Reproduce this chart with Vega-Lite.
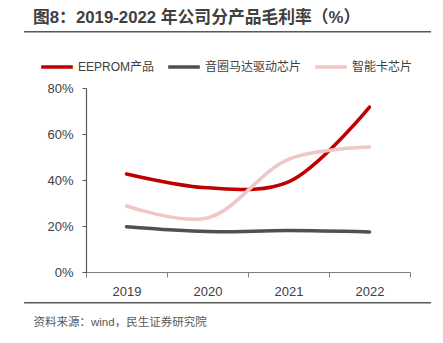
{
  "$schema": "https://vega.github.io/schema/vega-lite/v6.json",
  "width": 324,
  "height": 184,
  "autosize": "none",
  "padding": {"left": 86, "top": 88, "right": 33, "bottom": 71},
  "background": "white",
  "title": {
    "text": "图8：2019-2022 年公司分产品毛利率（%）",
    "anchor": "start",
    "frame": "group",
    "dx": -53,
    "offset": 4,
    "font": "Liberation Sans, Noto Sans CJK SC",
    "fontSize": 16.8,
    "fontWeight": "bold",
    "color": "#404040"
  },
  "config": {
    "view": {"stroke": null},
    "font": "Liberation Sans, Noto Sans CJK SC"
  },
  "datasets": {
    "margins": [
      {"year": "2019", "product": "EEPROM产品", "value": 42.6},
      {"year": "2020", "product": "EEPROM产品", "value": 36.6},
      {"year": "2021", "product": "EEPROM产品", "value": 39.2},
      {"year": "2022", "product": "EEPROM产品", "value": 71.7},
      {"year": "2019", "product": "音圈马达驱动芯片", "value": 19.7},
      {"year": "2020", "product": "音圈马达驱动芯片", "value": 17.6},
      {"year": "2021", "product": "音圈马达驱动芯片", "value": 18.0},
      {"year": "2022", "product": "音圈马达驱动芯片", "value": 17.4},
      {"year": "2019", "product": "智能卡芯片", "value": 28.7},
      {"year": "2020", "product": "智能卡芯片", "value": 23.5},
      {"year": "2021", "product": "智能卡芯片", "value": 49.0},
      {"year": "2022", "product": "智能卡芯片", "value": 54.3}
    ]
  },
  "layer": [
    {
      "data": {"name": "margins"},
      "mark": {"type": "line", "interpolate": "catmull-rom", "strokeWidth": 3.5, "strokeCap": "round", "clip": false},
      "encoding": {
        "x": {
          "field": "year",
          "type": "ordinal",
          "bandPosition": 0.5,
          "scale": {"type": "band", "paddingInner": 0, "paddingOuter": 0},
          "axis": {
            "title": "资料来源：wind，民生证券研究院",
            "titleAnchor": "start",
            "titleX": -53,
            "titleY": 50,
            "titleBaseline": "middle",
            "titleFontSize": 11.5,
            "titleFontWeight": "normal",
            "titleColor": "#595959",
            "titleFont": "Liberation Sans, Noto Sans CJK SC",
            "tickBand": "extent",
            "labelAngle": 0,
            "labelFontSize": 13,
            "labelColor": "#404040",
            "labelPadding": 8,
            "tickSize": 5,
            "tickColor": "#7f7f7f",
            "domainColor": "#7f7f7f",
            "domainWidth": 1.2,
            "grid": false
          }
        },
        "y": {
          "field": "value",
          "type": "quantitative",
          "scale": {"domain": [0, 80]},
          "axis": {
            "title": null,
            "values": [0, 20, 40, 60, 80],
            "labelExpr": "datum.value + '%'",
            "labelFontSize": 13,
            "labelColor": "#404040",
            "labelPadding": 9,
            "tickSize": 4,
            "tickColor": "#595959",
            "domainColor": "#595959",
            "domainWidth": 1.2,
            "grid": false
          }
        },
        "color": {
          "field": "product",
          "type": "nominal",
          "scale": {
            "domain": ["EEPROM产品", "音圈马达驱动芯片", "智能卡芯片"],
            "range": ["#C00000", "#505050", "#F0C6C6"]
          },
          "legend": {
            "title": null,
            "orient": "none",
            "direction": "horizontal",
            "legendX": -47,
            "legendY": -39,
            "symbolType": "stroke",
            "symbolSize": 1000,
            "symbolStrokeWidth": 3.5,
            "labelFontSize": 12,
            "labelColor": "#404040",
            "labelOffset": 3,
            "columnPadding": 6,
            "labelLimit": 200
          }
        }
      }
    },
    {
      "data": {"values": [{}]},
      "mark": {"type": "rule", "color": "#595959", "strokeWidth": 1.5, "clip": false},
      "encoding": {
        "x": {"datum": -0.191, "type": "quantitative", "scale": {"domain": [0, 1]}, "axis": null},
        "x2": {"datum": 1.065},
        "y": {"datum": 104.5, "type": "quantitative"}
      }
    },
    {
      "data": {"values": [{}]},
      "mark": {"type": "rule", "color": "#595959", "strokeWidth": 1.5, "clip": false},
      "encoding": {
        "x": {"datum": -0.191, "type": "quantitative", "scale": {"domain": [0, 1]}, "axis": null},
        "x2": {"datum": 1.065},
        "y": {"datum": -13.4, "type": "quantitative"}
      }
    }
  ],
  "resolve": {"scale": {"x": "independent"}, "axis": {"x": "independent"}}
}
